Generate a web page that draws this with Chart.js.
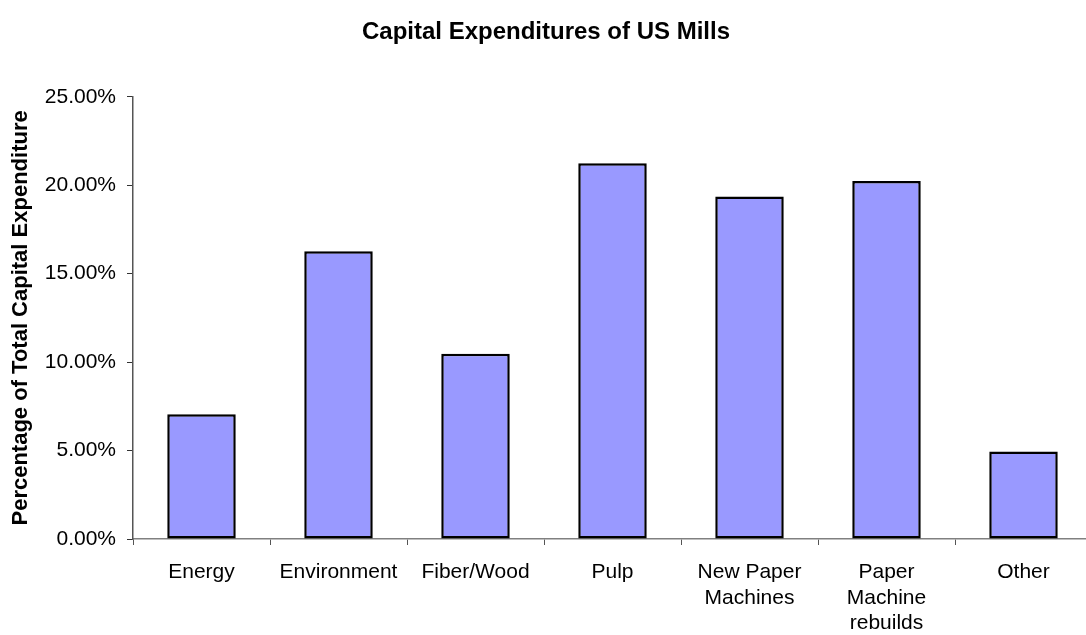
<!DOCTYPE html>
<html>
<head>
<meta charset="utf-8">
<script src="https://cdn.jsdelivr.net/npm/chart.js@4.4.1/dist/chart.umd.min.js"></script>
<style>
  html, body { margin: 0; padding: 0; background: #fff; overflow: hidden; }
  #wrap { width: 1092px; height: 635px; position: relative; }
</style>
</head>
<body>
<div id="wrap"><canvas id="myChart"></canvas></div>
<script>
const categories = [
  "Energy",
  "Environment",
  "Fiber/Wood",
  "Pulp",
  ["New Paper", "Machines"],
  ["Paper", "Machine", "rebuilds"],
  "Other",
];
// share of total capital expenditure, in percent
const shares = [7.05, 16.27, 10.47, 21.24, 19.36, 20.24, 4.95];
const yTicks = [0, 5, 10, 15, 20, 25];

Chart.defaults.font.family = "'Liberation Sans', Arial, sans-serif";
Chart.defaults.color = "#000";

const ctx = document.getElementById("myChart").getContext("2d");
const myChart = new Chart(ctx, {
  type: "bar",
  data: {
    labels: categories,
    datasets: [
      {
        label: "Capital Expenditure",
        data: shares,
        backgroundColor: "#9999ff",
        borderColor: "#000",
        borderWidth: 2.5,
        borderSkipped: false,
        categoryPercentage: 1,
        barPercentage: 0.5,
      },
    ],
  },
  options: {
    responsive: true,
    maintainAspectRatio: false,
    animation: false,
    layout: { padding: 0 },
    plugins: {
      legend: { display: false },
      tooltip: { enabled: false },
      title: {
        display: true,
        text: "Capital Expenditures of US Mills",
        font: { size: 24, weight: "bold" },
        color: "#000",
        padding: { top: 18, bottom: 50 },
      },
    },
    scales: {
      x: {
        afterFit(scale) { scale.height = 96; },
        border: { color: "#808080", width: 1.5 },
        grid: {
          offset: true,
          drawOnChartArea: false,
          tickLength: 6,
          tickColor: "#555",
        },
        ticks: {
          font: { size: 21 },
          lineHeight: 1.3,
          padding: 15,
          maxRotation: 0,
          autoSkip: false,
        },
      },
      y: {
        min: 0,
        max: 25,
        afterFit(scale) { scale.width = 133; },
        afterBuildTicks(scale) {
          scale.ticks = yTicks.map((v) => ({ value: v }));
        },
        border: { color: "#555", width: 1.5 },
        grid: {
          drawOnChartArea: false,
          tickLength: 6,
          tickColor: "#333",
        },
        ticks: {
          font: { size: 21 },
          padding: 11,
          callback: (v) => v.toFixed(2) + "%",
        },
        title: {
          display: true,
          text: "Percentage of Total Capital Expenditure",
          font: { size: 22, weight: "bold" },
          color: "#000",
          padding: { top: 8, bottom: 0 },
        },
      },
    },
  },
});
</script>
</body>
</html>
